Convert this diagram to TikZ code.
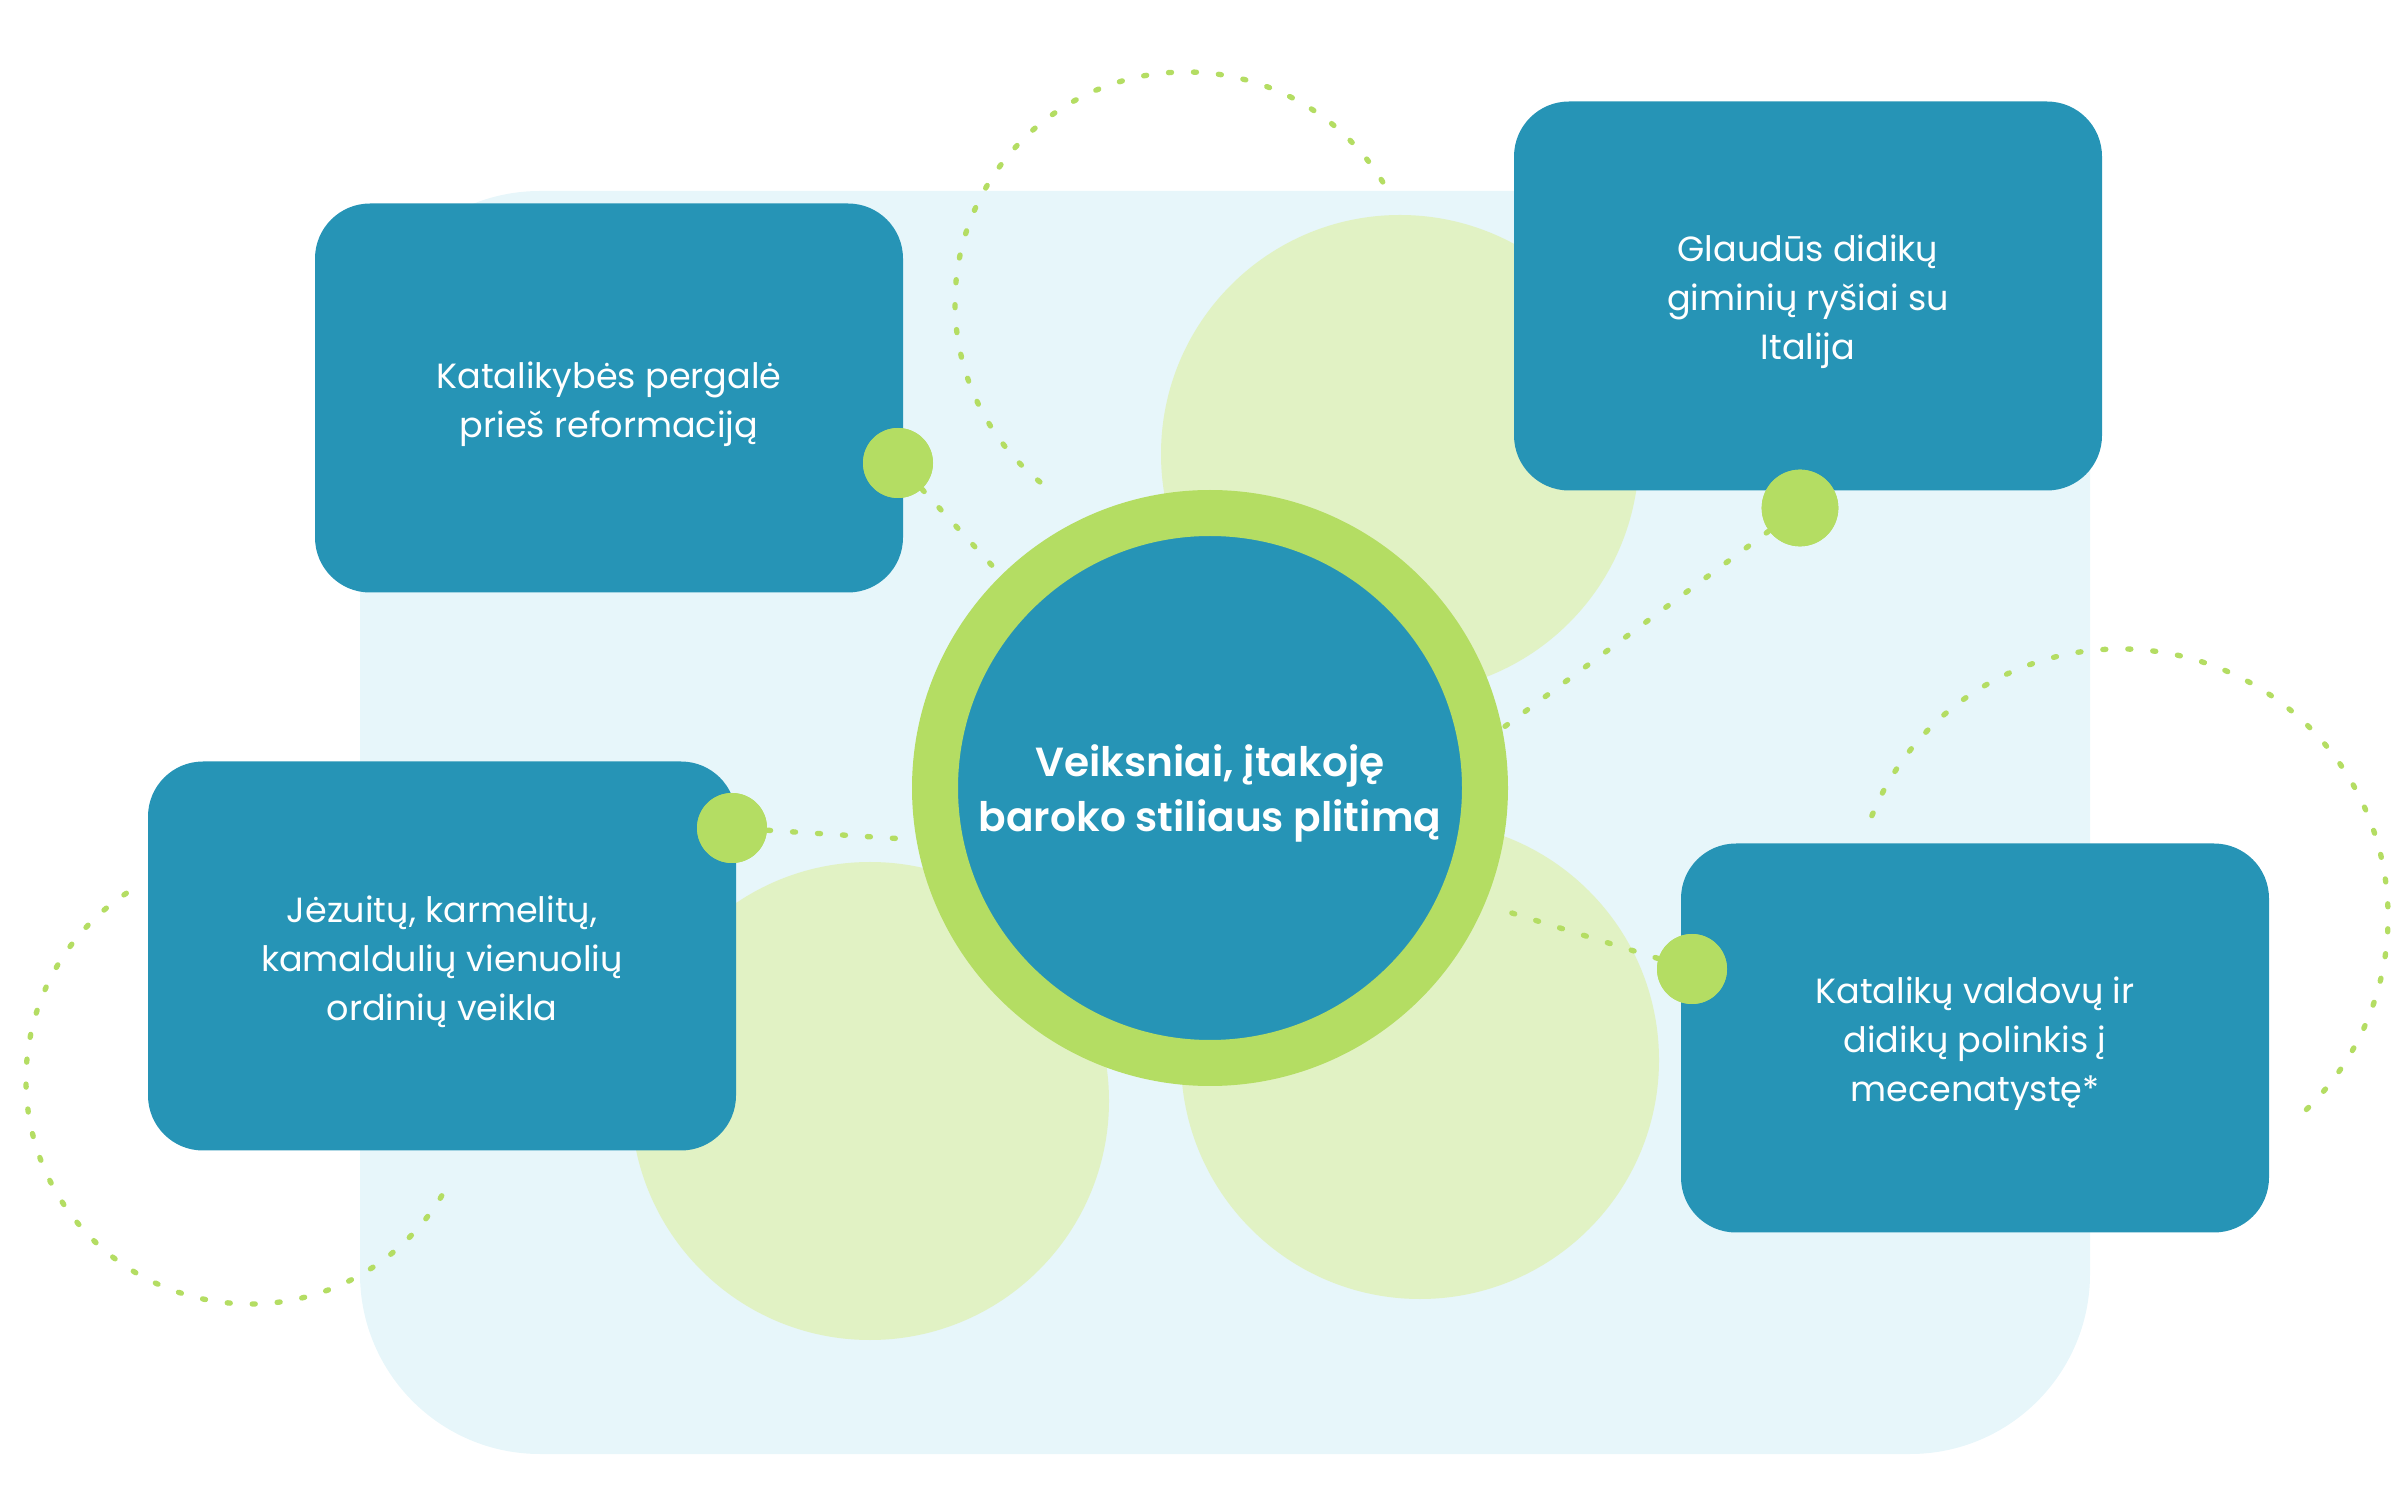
\documentclass[tikz,border=0pt]{standalone}
\usepackage{fontspec}
\setmainfont{Poppins}
\newfontfamily\semibold{Poppins SemiBold}
\usetikzlibrary{positioning}

\definecolor{boxblue}{RGB}{38,148,182}
\definecolor{ringgreen}{RGB}{180,221,99}
\definecolor{palegreen}{RGB}{225,242,196}
\definecolor{backblue}{RGB}{231,246,250}

% raises the first line a little so the text sits centred like the original
\newcommand{\padtop}[1]{\rule{0pt}{#1}}

\tikzset{
  box/.style={fill=boxblue, rounded corners=16.5pt, minimum width=176.4pt, minimum height=116.7pt, inner sep=0pt, align=center, text=white, font=\fontsize{10.5}{14.7}\selectfont},
  knob/.style={circle, fill=ringgreen, minimum size=21pt, inner sep=0pt},
  dotline/.style={draw=ringgreen, line width=1.6pt, line cap=round, dash pattern=on 0.9pt off 6.6pt},
  blob/.style={fill=palegreen},
}

\begin{document}
\begin{tikzpicture}[x=0.3pt,y=0.3pt,yscale=-1,xscale=1]
\useasboundingbox (0,0) rectangle (2400,1500);

%Background panel
\fill [backblue, rounded corners=54pt] (360,191) rectangle (2090,1454);

%Pale circles
\fill [blob] (1400,454) circle [radius=239];
\fill [blob] (870,1101) circle [radius=239];
\fill [blob] (1420,1060) circle [radius=239];

%Dotted arcs
\draw [dotline] (1186,303) ++(-31.6:231) arc [start angle=-31.6, end angle=-235.9, radius=231];
\draw [dotline] (2120,917) ++(-157.8:268) arc [start angle=-157.8, end angle=49.6, radius=268];
\draw [dotline] (250,1080) ++(-123.5:224) arc [start angle=-123.5, end angle=-333, radius=224];

% Text Node
\node [box] (victory) at (609,398) {\padtop{11.6pt}Katalikybės pergalė\\prieš reformaciją};
% Text Node
\node [box] (italy) at (1808,296) {\padtop{11.6pt}Glaudūs didikų\\giminių ryšiai su\\Italija};
% Text Node
\node [box] (orders) at (442,956) {\padtop{11.6pt}Jėzuitų, karmelitų,\\kamaldulių vienuolių\\ordinių veikla};
% Text Node
\node [box] (patrons) at (1975,1038) {\padtop{11.6pt}Katalikų valdovų ir\\didikų polinkis į\\mecenatystę*};

%Knobs
\node [knob] (victorydot) at (898,463) {};
\node [knob, minimum size=23pt] (italydot) at (1800,508) {};
\node [knob] (ordersdot) at (732,828) {};
\node [knob] (patronsdot) at (1692,969) {};

%Centre
\coordinate (mid) at (1210,788);
\draw [dotline] (victorydot) -- ([shift={(-134.5:298)}]mid);
\draw [dotline] (italydot) -- ([shift={(-11.5:298)}]mid);
\draw [dotline, shorten >=4.8pt] (ordersdot) -- ([shift={(170:298)}]mid);
\draw [dotline, shorten >=6pt] (patronsdot) -- ([shift={(23:298)}]mid);

\node [circle, fill=boxblue, draw=ringgreen, line width=13.8pt, minimum size=165pt, inner sep=0pt, text=white, align=center, font=\semibold\fontsize{12.2}{16.5}\selectfont] (ring) at (mid) {\padtop{13pt}Veiksniai, įtakoję\\baroko stiliaus plitimą};
\node [knob] at (victorydot) {};
\node [knob, minimum size=23pt] at (italydot) {};
\node [knob] at (ordersdot) {};
\node [knob] at (patronsdot) {};

\end{tikzpicture}
\end{document}
